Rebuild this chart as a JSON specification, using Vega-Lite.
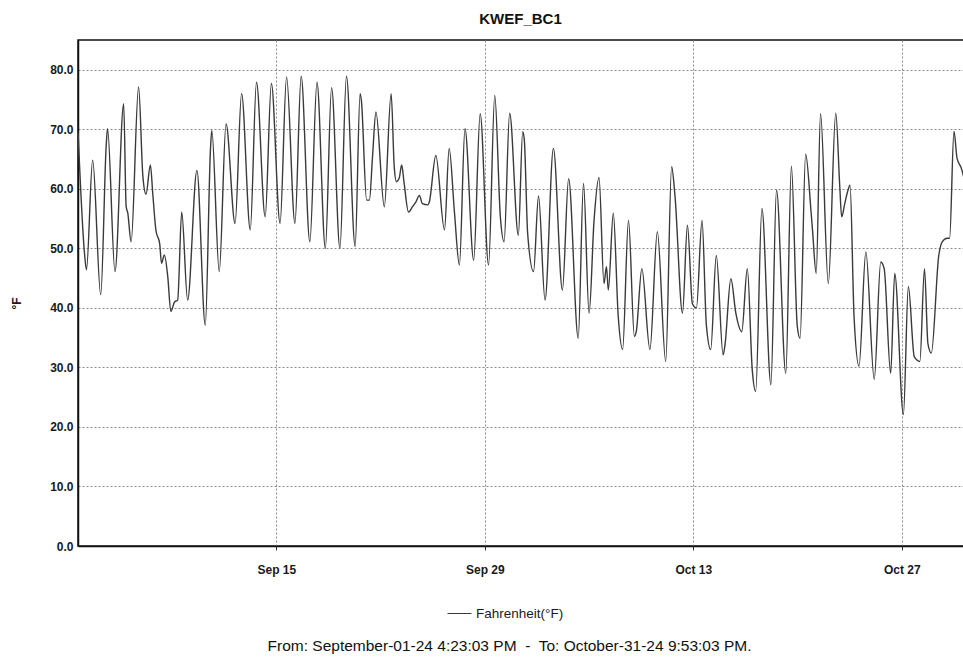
{
  "$schema": "https://vega.github.io/schema/vega-lite/v6.json",
  "autosize": {"type": "none"},
  "padding": {"left": 78, "top": 40, "right": 0, "bottom": 111},
  "width": 897,
  "height": 506,
  "background": "white",
  "title": {
    "text": "KWEF_BC1",
    "font": "Liberation Sans Narrow, Liberation Sans, Arial",
    "fontSize": 15,
    "fontWeight": "bold",
    "color": "#111111",
    "anchor": "middle",
    "dx": -6,
    "baseline": "alphabetic",
    "offset": 1
  },
  "config": {
    "view": {"stroke": "#111111", "strokeWidth": 1.5},
    "axis": {
      "gridColor": "#8a8a8a",
      "gridDash": [2, 2],
      "gridWidth": 1,
      "gridOpacity": 1,
      "domainColor": "#111111",
      "domainWidth": 1.5,
      "labelFont": "Liberation Sans",
      "labelFontWeight": "bold",
      "labelFontSize": 12,
      "labelColor": "#1a1a1a",
      "tickColor": "#333333"
    }
  },
  "data": {
    "values": [
      {"t": "2024-09-01T16:30", "v": 69.5},
      {"t": "2024-09-02T03:00", "v": 49},
      {"t": "2024-09-02T06:00", "v": 46.4},
      {"t": "2024-09-02T16:00", "v": 64.8},
      {"t": "2024-09-03T05:00", "v": 42.2},
      {"t": "2024-09-03T14:00", "v": 67.6},
      {"t": "2024-09-03T16:00", "v": 70.1},
      {"t": "2024-09-04T04:00", "v": 46.1},
      {"t": "2024-09-04T18:00", "v": 74.3},
      {"t": "2024-09-04T22:00", "v": 57},
      {"t": "2024-09-05T00:30", "v": 56},
      {"t": "2024-09-05T06:00", "v": 51.1},
      {"t": "2024-09-05T18:00", "v": 77.1},
      {"t": "2024-09-06T01:00", "v": 62},
      {"t": "2024-09-06T06:00", "v": 59.1},
      {"t": "2024-09-06T13:00", "v": 64},
      {"t": "2024-09-06T17:00", "v": 59},
      {"t": "2024-09-06T22:00", "v": 53},
      {"t": "2024-09-07T04:00", "v": 50.8},
      {"t": "2024-09-07T07:00", "v": 47.5},
      {"t": "2024-09-07T11:30", "v": 48.9},
      {"t": "2024-09-07T17:00", "v": 45.3},
      {"t": "2024-09-07T22:00", "v": 39.4},
      {"t": "2024-09-08T04:00", "v": 41},
      {"t": "2024-09-08T09:00", "v": 41.3},
      {"t": "2024-09-08T15:30", "v": 56.1},
      {"t": "2024-09-09T01:00", "v": 41.3},
      {"t": "2024-09-09T16:00", "v": 63.1},
      {"t": "2024-09-10T05:30", "v": 37.1},
      {"t": "2024-09-10T14:00", "v": 67},
      {"t": "2024-09-10T16:00", "v": 69.8},
      {"t": "2024-09-11T04:00", "v": 46.1},
      {"t": "2024-09-11T15:00", "v": 70.9},
      {"t": "2024-09-12T05:30", "v": 54.2},
      {"t": "2024-09-12T16:00", "v": 76},
      {"t": "2024-09-13T06:00", "v": 53.1},
      {"t": "2024-09-13T16:00", "v": 77.9},
      {"t": "2024-09-14T06:00", "v": 55.3},
      {"t": "2024-09-14T16:00", "v": 77.7},
      {"t": "2024-09-15T06:00", "v": 54.2},
      {"t": "2024-09-15T16:30", "v": 78.8},
      {"t": "2024-09-16T06:00", "v": 54.2},
      {"t": "2024-09-16T16:00", "v": 78.9},
      {"t": "2024-09-17T06:00", "v": 51.1},
      {"t": "2024-09-17T17:30", "v": 77.9},
      {"t": "2024-09-18T07:00", "v": 50},
      {"t": "2024-09-18T17:00", "v": 77},
      {"t": "2024-09-19T06:30", "v": 50},
      {"t": "2024-09-19T17:00", "v": 78.9},
      {"t": "2024-09-20T07:00", "v": 50.3},
      {"t": "2024-09-20T15:00", "v": 76},
      {"t": "2024-09-20T17:00", "v": 74.9},
      {"t": "2024-09-21T01:30", "v": 58.1},
      {"t": "2024-09-21T06:00", "v": 58.1},
      {"t": "2024-09-21T11:00", "v": 65.4},
      {"t": "2024-09-21T16:30", "v": 72.9},
      {"t": "2024-09-22T06:00", "v": 57},
      {"t": "2024-09-22T17:00", "v": 76},
      {"t": "2024-09-22T22:00", "v": 63.7},
      {"t": "2024-09-23T01:30", "v": 61.2},
      {"t": "2024-09-23T06:00", "v": 61.8},
      {"t": "2024-09-23T10:00", "v": 64},
      {"t": "2024-09-23T14:00", "v": 60.9},
      {"t": "2024-09-23T21:00", "v": 56.1},
      {"t": "2024-09-24T03:30", "v": 57},
      {"t": "2024-09-24T09:00", "v": 57.8},
      {"t": "2024-09-24T14:30", "v": 58.9},
      {"t": "2024-09-24T19:30", "v": 57.5},
      {"t": "2024-09-25T04:00", "v": 57.3},
      {"t": "2024-09-25T06:30", "v": 57.8},
      {"t": "2024-09-25T17:00", "v": 65.6},
      {"t": "2024-09-26T07:00", "v": 53.1},
      {"t": "2024-09-26T14:30", "v": 66.8},
      {"t": "2024-09-26T23:00", "v": 56.1},
      {"t": "2024-09-27T07:00", "v": 47.2},
      {"t": "2024-09-27T16:00", "v": 70.1},
      {"t": "2024-09-28T06:00", "v": 48},
      {"t": "2024-09-28T16:30", "v": 72.6},
      {"t": "2024-09-29T06:00", "v": 47.2},
      {"t": "2024-09-29T16:00", "v": 75.7},
      {"t": "2024-09-30T01:00", "v": 55.3},
      {"t": "2024-09-30T07:00", "v": 51.1},
      {"t": "2024-09-30T16:00", "v": 72.7},
      {"t": "2024-10-01T06:00", "v": 52.2},
      {"t": "2024-10-01T13:00", "v": 69.6},
      {"t": "2024-10-01T15:30", "v": 68.4},
      {"t": "2024-10-01T21:00", "v": 52.5},
      {"t": "2024-10-02T06:30", "v": 46.1},
      {"t": "2024-10-02T14:30", "v": 58.8},
      {"t": "2024-10-03T01:00", "v": 41.3},
      {"t": "2024-10-03T14:30", "v": 66.8},
      {"t": "2024-10-04T05:00", "v": 43},
      {"t": "2024-10-04T15:00", "v": 61.7},
      {"t": "2024-10-05T06:30", "v": 34.9},
      {"t": "2024-10-05T15:00", "v": 60.9},
      {"t": "2024-10-06T00:00", "v": 39.1},
      {"t": "2024-10-06T08:00", "v": 54.7},
      {"t": "2024-10-06T16:00", "v": 61.9},
      {"t": "2024-10-07T00:00", "v": 44.1},
      {"t": "2024-10-07T04:00", "v": 46.9},
      {"t": "2024-10-07T07:00", "v": 43},
      {"t": "2024-10-07T15:00", "v": 55.9},
      {"t": "2024-10-07T23:00", "v": 38.5},
      {"t": "2024-10-08T06:00", "v": 33},
      {"t": "2024-10-08T15:30", "v": 54.7},
      {"t": "2024-10-09T01:00", "v": 35.2},
      {"t": "2024-10-09T04:00", "v": 36},
      {"t": "2024-10-09T13:00", "v": 46.6},
      {"t": "2024-10-10T02:00", "v": 33},
      {"t": "2024-10-10T14:00", "v": 52.8},
      {"t": "2024-10-11T03:30", "v": 31},
      {"t": "2024-10-11T13:00", "v": 63.7},
      {"t": "2024-10-11T18:30", "v": 58.7},
      {"t": "2024-10-12T06:30", "v": 39.1},
      {"t": "2024-10-12T14:30", "v": 53.9},
      {"t": "2024-10-12T22:30", "v": 40.7},
      {"t": "2024-10-13T05:00", "v": 40},
      {"t": "2024-10-13T14:00", "v": 54.7},
      {"t": "2024-10-13T21:00", "v": 37.1},
      {"t": "2024-10-14T04:00", "v": 33},
      {"t": "2024-10-14T13:00", "v": 48.8},
      {"t": "2024-10-15T00:00", "v": 32.1},
      {"t": "2024-10-15T03:00", "v": 33.8},
      {"t": "2024-10-15T12:30", "v": 44.9},
      {"t": "2024-10-15T20:30", "v": 39.1},
      {"t": "2024-10-16T06:00", "v": 36},
      {"t": "2024-10-16T15:00", "v": 46.6},
      {"t": "2024-10-16T23:00", "v": 29.5},
      {"t": "2024-10-17T04:30", "v": 26},
      {"t": "2024-10-17T14:30", "v": 56.7},
      {"t": "2024-10-18T05:00", "v": 27.1},
      {"t": "2024-10-18T14:00", "v": 59.8},
      {"t": "2024-10-19T05:00", "v": 29},
      {"t": "2024-10-19T14:00", "v": 63.8},
      {"t": "2024-10-19T23:30", "v": 36.9},
      {"t": "2024-10-20T04:00", "v": 34.9},
      {"t": "2024-10-20T13:00", "v": 65.8},
      {"t": "2024-10-20T21:30", "v": 56.4},
      {"t": "2024-10-21T00:00", "v": 53.1},
      {"t": "2024-10-21T06:00", "v": 45.8},
      {"t": "2024-10-21T13:00", "v": 72.6},
      {"t": "2024-10-22T01:30", "v": 44.1},
      {"t": "2024-10-22T13:30", "v": 72.7},
      {"t": "2024-10-22T20:00", "v": 60.3},
      {"t": "2024-10-22T23:00", "v": 55.3},
      {"t": "2024-10-23T04:00", "v": 57.5},
      {"t": "2024-10-23T08:30", "v": 59.5},
      {"t": "2024-10-23T12:30", "v": 60.6},
      {"t": "2024-10-23T19:00", "v": 38.5},
      {"t": "2024-10-24T03:00", "v": 30.2},
      {"t": "2024-10-24T14:00", "v": 49.4},
      {"t": "2024-10-25T03:30", "v": 28},
      {"t": "2024-10-25T14:00", "v": 47.7},
      {"t": "2024-10-25T19:30", "v": 46.6},
      {"t": "2024-10-26T06:00", "v": 29},
      {"t": "2024-10-26T12:30", "v": 45.8},
      {"t": "2024-10-27T02:30", "v": 22.1},
      {"t": "2024-10-27T10:30", "v": 43.6},
      {"t": "2024-10-27T20:00", "v": 31.8},
      {"t": "2024-10-28T05:00", "v": 31},
      {"t": "2024-10-28T12:30", "v": 46.6},
      {"t": "2024-10-28T18:00", "v": 34},
      {"t": "2024-10-28T23:30", "v": 32.4},
      {"t": "2024-10-29T11:30", "v": 48.8},
      {"t": "2024-10-29T17:00", "v": 51.1},
      {"t": "2024-10-30T01:00", "v": 51.7},
      {"t": "2024-10-30T05:00", "v": 51.7},
      {"t": "2024-10-30T12:00", "v": 69.7},
      {"t": "2024-10-30T17:00", "v": 65.1},
      {"t": "2024-10-30T23:00", "v": 63.7},
      {"t": "2024-10-31T08:00", "v": 61},
      {"t": "2024-10-31T15:00", "v": 62},
      {"t": "2024-10-31T21:53", "v": 58}
    ]
  },
  "mark": {"type": "line", "strokeWidth": 1.4, "interpolate": "monotone", "clip": true},
  "encoding": {
    "x": {
      "field": "t",
      "type": "temporal",
      "scale": {
        "domain": [
          {"year": 2024, "month": "sep", "date": 1, "hours": 16, "minutes": 23, "seconds": 3},
          {"year": 2024, "month": "oct", "date": 31, "hours": 21, "minutes": 53, "seconds": 3}
        ]
      },
      "axis": {
        "values": [
          {"year": 2024, "month": "sep", "date": 15},
          {"year": 2024, "month": "sep", "date": 29},
          {"year": 2024, "month": "oct", "date": 13},
          {"year": 2024, "month": "oct", "date": 27}
        ],
        "format": "%b %d",
        "grid": true,
        "tickSize": 4,
        "labelPadding": 14,
        "title": "From: September-01-24 4:23:03 PM \u00a0-\u00a0 To: October-31-24 9:53:03 PM.",
        "titleFont": "Liberation Sans",
        "titleFontWeight": "normal",
        "titleFontSize": 15.5,
        "titleColor": "#111111",
        "titleX": 431,
        "titleY": 99,
        "titleBaseline": "middle",
        "titleAlign": "center"
      }
    },
    "y": {
      "field": "v",
      "type": "quantitative",
      "scale": {"domain": [0, 85], "nice": false, "zero": true},
      "axis": {
        "values": [0, 10, 20, 30, 40, 50, 60, 70, 80],
        "format": ".1f",
        "grid": true,
        "tickSize": 0,
        "labelPadding": 5,
        "title": "°F",
        "titleFont": "Liberation Sans",
        "titleFontWeight": "bold",
        "titleFontSize": 12,
        "titleColor": "#1a1a1a",
        "titleX": -62,
        "titleY": 263,
        "titleAngle": -90,
        "titleBaseline": "middle",
        "titleAlign": "center"
      }
    },
    "color": {
      "datum": "Fahrenheit(°F)",
      "scale": {"range": ["#3a3a3a"]},
      "legend": {
        "title": null,
        "orient": "none",
        "legendX": 369,
        "legendY": 561,
        "symbolType": "stroke",
        "symbolSize": 576,
        "symbolStrokeWidth": 1,
        "labelFont": "Liberation Sans Narrow, Liberation Sans, Arial",
        "labelFontSize": 13.5,
        "labelColor": "#1a1a1a",
        "labelOffset": 4
      }
    }
  }
}
